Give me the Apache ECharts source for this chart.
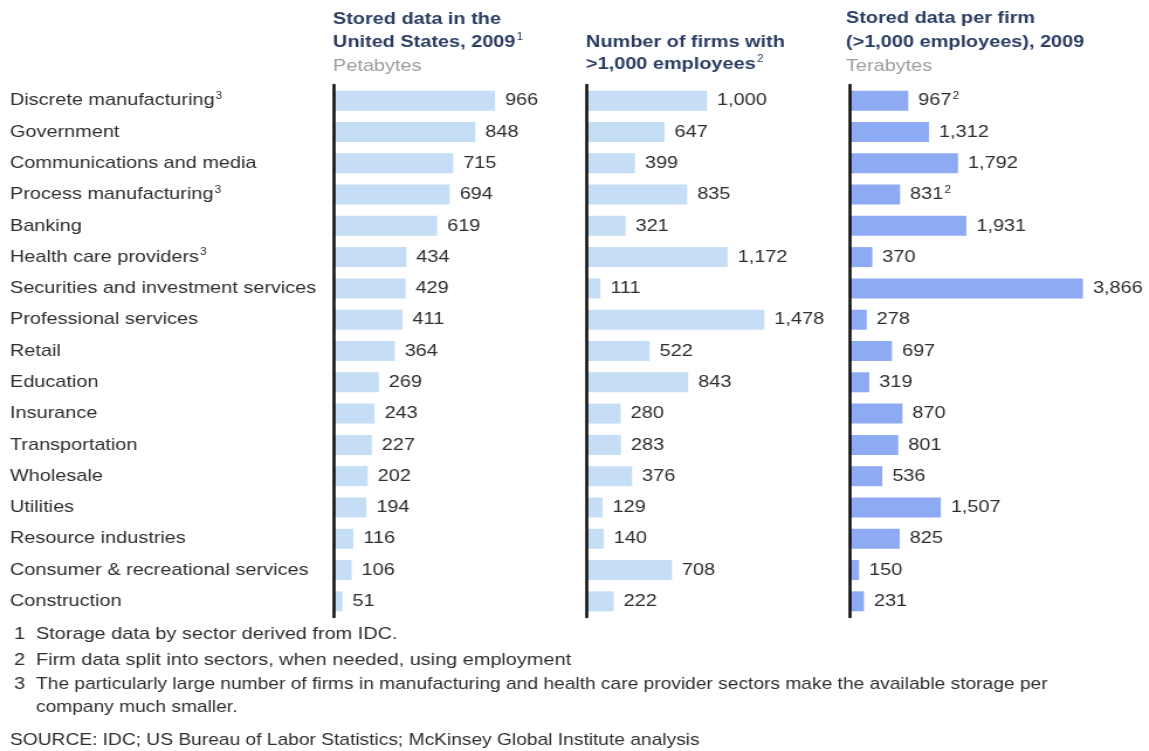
<!DOCTYPE html>
<html>
<head>
<meta charset="utf-8">
<script src="https://cdn.jsdelivr.net/npm/echarts@6/dist/echarts.min.js"></script>
<style>
  html, body { margin: 0; padding: 0; background: #fff; overflow: hidden; }
  #wrap { width: 1149px; height: 751px; overflow: hidden; }
  #chart { height: 751px; transform-origin: 0 0; }
</style>
</head>
<body>
<div id="wrap"><div id="chart"></div></div>
<script>
// Sector names; footnote numbers are kept separate for superscript display
const sectors = [
  'Discrete manufacturing', 'Government', 'Communications and media',
  'Process manufacturing', 'Banking', 'Health care providers',
  'Securities and investment services', 'Professional services', 'Retail',
  'Education', 'Insurance', 'Transportation', 'Wholesale', 'Utilities',
  'Resource industries', 'Consumer & recreational services', 'Construction'
];
const sectorNotes = ['3', '', '', '3', '', '3', '', '', '', '', '', '', '', '', '', '', ''];

// Stored data in the United States, 2009 (petabytes)
const storedPB = [966, 848, 715, 694, 619, 434, 429, 411, 364, 269, 243, 227, 202, 194, 116, 106, 51];
// Number of firms with >1,000 employees
const firms = [1000, 647, 399, 835, 321, 1172, 111, 1478, 522, 843, 280, 283, 376, 129, 140, 708, 222];
// Stored data per firm (terabytes)
const perFirmTB = [967, 1312, 1792, 831, 1931, 370, 3866, 278, 697, 319, 870, 801, 536, 1507, 825, 150, 231];
const perFirmNotes = ['2', '', '', '2', '', '', '', '', '', '', '', '', '', '', '', '', ''];

// Footnotes and source line
const footnotes = [
  ['1', 'Storage data by sector derived from IDC.'],
  ['2', 'Firm data split into sectors, when needed, using employment'],
  ['3', 'The particularly large number of firms in manufacturing and health care provider sectors make the available storage per'],
  ['', 'company much smaller.']
];
const sourceLine = 'SOURCE: IDC; US Bureau of Labor Statistics; McKinsey Global Institute analysis';

// The page is laid out in a horizontally condensed space and widened with a CSS scale
const S = 1.17;
const PAGE_W = 1149;
const X = a => a / S;

const el = document.getElementById('chart');
el.style.width = (PAGE_W / S) + 'px';
el.style.transform = 'scaleX(' + S + ')';

const FONT = '"Liberation Sans", Arial, sans-serif';
const FS = 17;
const TEXT = '#2e2e2e';
const TITLE = '#2a3d62';

const fmt = v => v.toLocaleString('en-US');

const gridTop = 85, gridHeight = 532;
const grids = [
  { left: X(334), top: gridTop, width: X(166.7), height: gridHeight },
  { left: X(587), top: gridTop, width: X(180), height: gridHeight },
  { left: X(850), top: gridTop, width: X(241), height: gridHeight }
];
const maxes = [1000, 1500, 4000];

const chart = echarts.init(el, null, { renderer: 'canvas' });

const supRich = { fontSize: 10, verticalAlign: 'top', padding: [0, 0, 9, 1], color: TEXT, fontFamily: FONT };

const xAxes = grids.map((g, i) => ({
  gridIndex: i, type: 'value', min: 0, max: maxes[i], show: false
}));

const yAxes = grids.map((g, i) => ({
  gridIndex: i, type: 'category', data: sectors, inverse: true, z: 5,
  axisTick: { show: false },
  axisLine: { show: true, lineStyle: { color: '#111', width: 2.6 } },
  splitLine: { show: false },
  axisLabel: i === 0 ? {
    show: true, align: 'left', margin: X(334 - 10),
    fontFamily: FONT, fontSize: FS, color: TEXT,
    formatter: (v, idx) => sectorNotes[idx] ? v + '{sup|' + sectorNotes[idx] + '}' : v,
    rich: { sup: supRich }
  } : { show: false }
}));

const labelBase = {
  show: true, position: 'right', distance: X(10),
  fontFamily: FONT, fontSize: FS, color: TEXT
};

const series = [
  {
    type: 'bar', xAxisIndex: 0, yAxisIndex: 0, data: storedPB, barWidth: 20,
    itemStyle: { color: '#c6ddf6' },
    label: Object.assign({}, labelBase, { formatter: p => fmt(p.value) })
  },
  {
    type: 'bar', xAxisIndex: 1, yAxisIndex: 1, data: firms, barWidth: 20,
    itemStyle: { color: '#c6ddf6' },
    label: Object.assign({}, labelBase, { formatter: p => fmt(p.value) })
  },
  {
    type: 'bar', xAxisIndex: 2, yAxisIndex: 2, data: perFirmTB, barWidth: 20,
    itemStyle: { color: '#8eaaf2' },
    label: Object.assign({}, labelBase, {
      formatter: p => perFirmNotes[p.dataIndex] ? fmt(p.value) + '{sup|' + perFirmNotes[p.dataIndex] + '}' : fmt(p.value),
      rich: { sup: supRich }
    })
  }
];

// Text centred vertically on y
function txt(x, y, text, style) {
  return {
    type: 'text', x: X(x), y: y,
    style: Object.assign({ text: text, font: FS + 'px ' + FONT, fill: TEXT, verticalAlign: 'middle' }, style || {})
  };
}
const boldTitle = { font: 'bold ' + FS + 'px ' + FONT, fill: TITLE };
const unitStyle = { font: FS + 'px ' + FONT, fill: '#9c9c9c' };
const noteStyle = { font: '16.4px ' + FONT, fill: TEXT };
function titleWithNote(x, y, main, note) {
  return {
    type: 'text', x: X(x), y: y,
    style: {
      text: '{b|' + main + '}{s|' + note + '}',
      verticalAlign: 'middle',
      rich: {
        b: { font: 'bold ' + FS + 'px ' + FONT, fill: TITLE },
        s: { font: '10px ' + FONT, fill: TITLE, verticalAlign: 'top', padding: [0, 0, 9, 1] }
      }
    }
  };
}

const graphics = [
  // Panel 1 heading
  txt(333, 19, 'Stored data in the', boldTitle),
  titleWithNote(333, 42, 'United States, 2009', '1'),
  txt(333, 66, 'Petabytes', unitStyle),
  // Panel 2 heading
  txt(586, 42, 'Number of firms with', boldTitle),
  titleWithNote(586, 64, '>1,000 employees', '2'),
  // Panel 3 heading
  txt(846, 18, 'Stored data per firm', boldTitle),
  txt(846, 42, '(>1,000 employees), 2009', boldTitle),
  txt(846, 66, 'Terabytes', unitStyle)
];

const noteY = [634, 660, 684, 707];
footnotes.forEach((f, i) => {
  if (f[0]) graphics.push(txt(14, noteY[i], f[0]));
  graphics.push(txt(36, noteY[i], f[1], i >= 2 ? noteStyle : undefined));
});
graphics.push(txt(10, 740, sourceLine, noteStyle));

chart.setOption({
  backgroundColor: '#ffffff',
  animation: false,
  grid: grids,
  xAxis: xAxes,
  yAxis: yAxes,
  series: series,
  graphic: graphics
});
</script>
</body>
</html>
